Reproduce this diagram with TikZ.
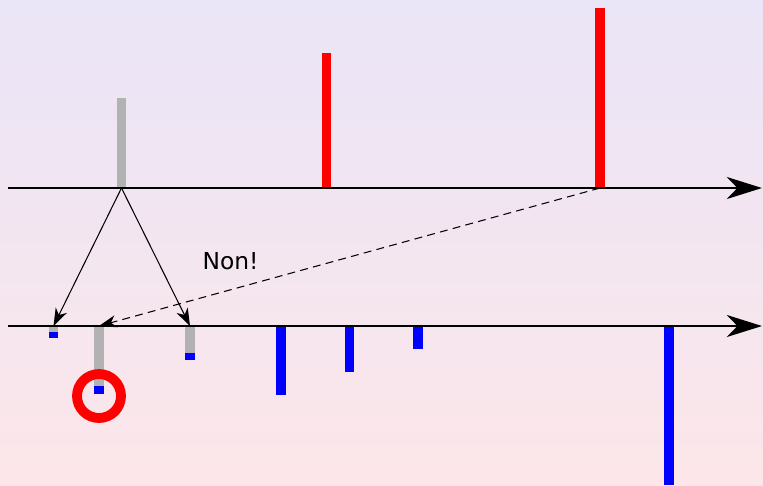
\documentclass[tikz,border=0pt]{standalone}
\usepackage{fontspec}
\setsansfont{DejaVu Sans}
\usepackage{xcolor}
\usepackage{tikz}
\usetikzlibrary{arrows.meta}

\definecolor{bgtop}{HTML}{EAE5F7}
\definecolor{bgbot}{HTML}{FCE6E9}

\begin{document}
\begin{tikzpicture}[x=0.02cm, y=-0.02cm,
    axis/.style={line width=1.4pt, -{Stealth[length=20pt, width=12.5pt, inset=6pt]}},
    link/.style={line width=0.6pt, -{Stealth[length=10pt, width=7pt, inset=3pt]}},
    bar/.style={line width=5.3pt}]
\useasboundingbox (0,0) rectangle (763,485);
\shade[top color=bgtop, bottom color=bgbot] (0,0) rectangle (763,485);

% axes ends and bar feet
\coordinate (o1) at (8,188);
\coordinate (e1) at (762,188);
\coordinate (o2) at (8,326);
\coordinate (e2) at (762,326);
\coordinate (src) at (121.5,188);
\coordinate (far) at (600,188);
\coordinate (left) at (53.5,326);
\coordinate (mid) at (99,326);
\coordinate (right) at (190,326);

% upper bars
\draw[bar, gray!60] (src) -- (121.5,98);
\draw[bar, red] (326.5,188) -- (326.5,53);
\draw[bar, red] (far) -- (600,8);

% lower bars: gray part, then blue tip
\foreach \x/\g/\b in {53.5/332/337.7, 99/386/394.3, 190/352.7/360.3} {
    \draw[bar, gray!60] (\x,326) -- (\x,\g);
    \draw[bar, blue] (\x,\g) -- (\x,\b);
}
\foreach \x/\b in {281/394.7, 349.7/372, 418/349.3, 669/485} {
    \draw[bar, blue] (\x,326) -- (\x,\b);
}

\draw[axis] (o1) -- (e1);
\draw[axis] (o2) -- (e2);

\draw[link] (src) -- (left);
\draw[link] (src) -- (right);
\draw[link, dash pattern=on 4.5pt off 3pt] (far) -- (mid);
\node[anchor=base, font=\sffamily\fontsize{13.3}{16}\selectfont] (non) at (230.5,269.3) {Non!};

\draw[red, line width=5.6pt] (99,396) circle [radius=0.44cm];
\end{tikzpicture}
\end{document}
